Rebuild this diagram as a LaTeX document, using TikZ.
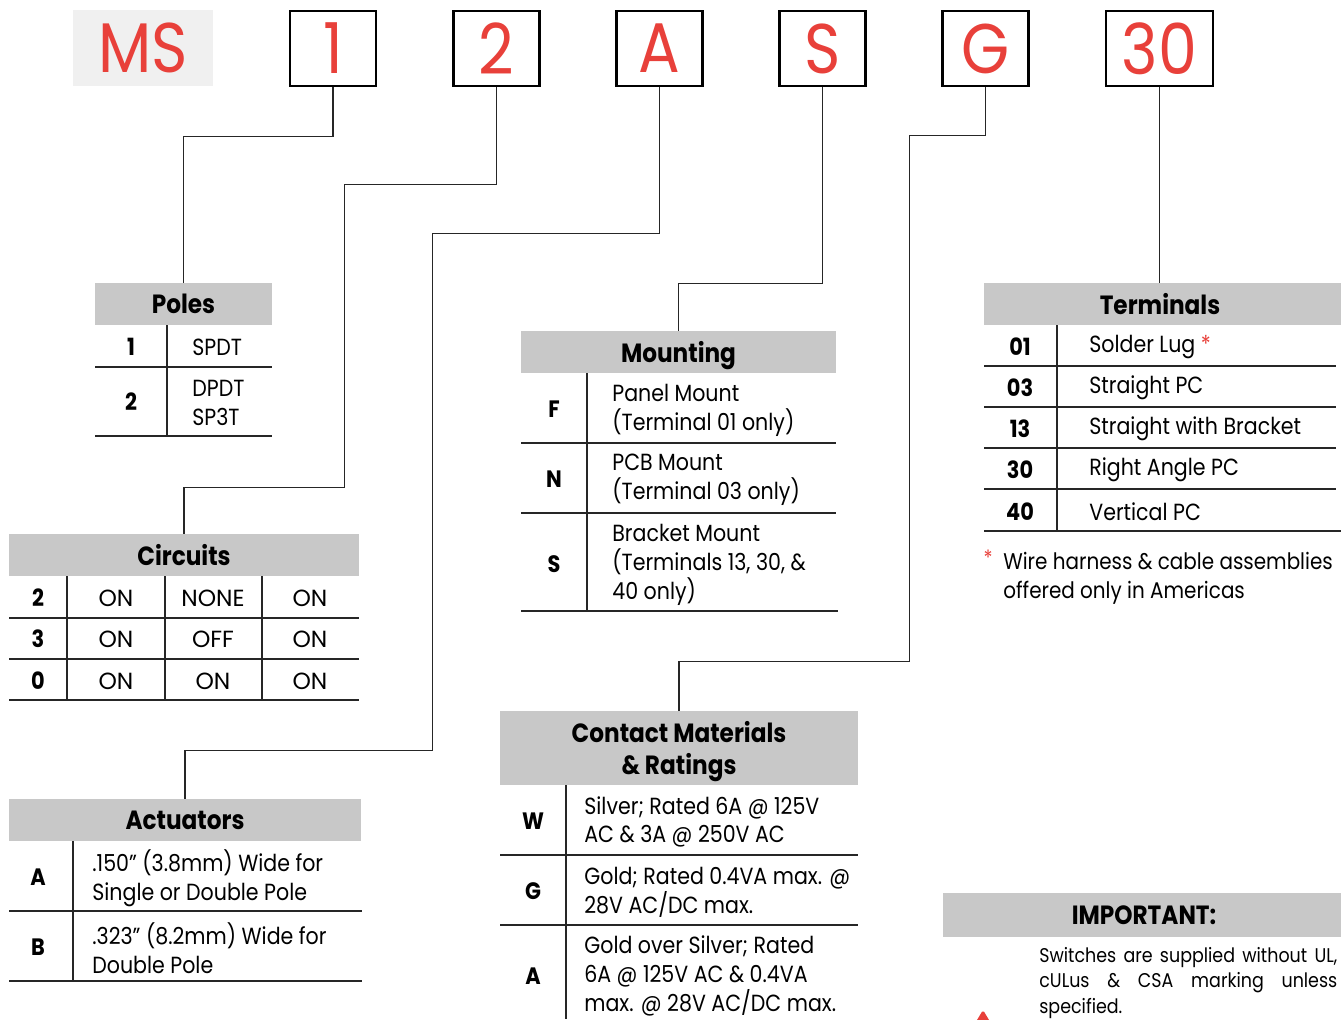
\documentclass[tikz,border=0pt]{standalone}
\usepackage{fontspec}
\setmainfont{Poppins}[FakeStretch=0.88]
\newfontfamily\capsfont{Poppins}
\usetikzlibrary{calc,positioning}
\definecolor{msred}{HTML}{E8403A}
\definecolor{msgray}{HTML}{F0F0F0}
\definecolor{headgray}{HTML}{C8C8C8}
\tikzset{
  code-box/.style={draw,line width=1.6pt,minimum width=1.72cm,minimum height=1.5cm,inner sep=0pt,text=msred,font=\fontsize{40}{40}\selectfont},
  head-bar/.style={fill=headgray,minimum height=0.84cm,inner sep=0pt,text depth=0pt,font=\fontsize{15}{18.2}\selectfont\bfseries},
  lead/.style={line width=0.8pt,black!85},
  rule/.style={line width=0.8pt,black!85},
  cell-key/.style={inner sep=0pt,font=\fontsize{13.5}{16.4}\selectfont\bfseries},
  cell-txt/.style={inner sep=0pt,anchor=west,align=left,font=\fontsize{13.3}{16.4}\selectfont},
  cell-mid/.style={inner sep=0pt,font=\fontsize{13.3}{16.4}\capsfont},
}

\begin{document}
\begin{tikzpicture}[x=0.02cm,y=-0.02cm]

  \clip (0,0) rectangle (1341,1019);

  % PART NUMBER
  \node[code-box,draw=none,fill=msgray,minimum width=2.8cm,minimum height=1.52cm] (bMS) at (143,48) {MS};
  \node[code-box] (b1)  at (333,48.5)    {1};
  \node[code-box] (b2)  at (496.5,48.5)  {2};
  \node[code-box] (bA)  at (659.5,48.5)  {A};
  \node[code-box] (bS)  at (822.5,48.5)  {S};
  \node[code-box] (bG)  at (985.5,48.5)  {G};
  \node[code-box,minimum width=2.14cm] (b30) at (1159.5,48.5) {30};

  % headers
  \node[head-bar,minimum width=3.54cm] (hPoles) at (183.5,304) {Poles};
  \node[head-bar,minimum width=7cm]    (hCirc)  at (184,555)   {Circuits};
  \node[head-bar,minimum width=7.04cm] (hAct)   at (185,820)   {Actuators};
  \node[head-bar,minimum width=6.3cm]  (hMount) at (678.5,352) {Mounting};
  \node[head-bar,minimum width=7.16cm,minimum height=1.48cm,align=center] (hCont) at (679,748) {Contact Materials\\\& Ratings};
  \node[head-bar,minimum width=7.22cm] (hTerm)  at (1164.5,304) {\hspace*{-0.18cm}Terminals};
  \node[head-bar,minimum width=8.04cm,minimum height=0.88cm] (hImp) at (1144,915) {IMPORTANT:};

  % leaders
  \draw[lead] (b1.south) -- ++(0,49) -| (hPoles.north);
  \draw[lead] (b2.south) -- ++(0,97) -| ++(-152,303) -| (hCirc.north);
  \draw[lead] (bA.south) -- ++(0,146) -| ++(-227,517) -| (hAct.north);
  \draw[lead] (bS.south) -- ++(0,196) -| (hMount.north);
  \draw[lead] (bG.south) -- ++(0,48) -| ++(-76,526) -| (hCont.north);
  \draw[lead] (b30.south) -- (b30.south |- hTerm.north);

  % POLES
  \draw[rule] (95,367) -- (272,367);
  \draw[rule] (95,436) -- (272,436);
  \draw[rule] (167,325) -- (167,436);
  \node[cell-key] (po1k) at (131,347) {1};
  \node[cell-key] (po2k) at (131,402) {2};
  \node[cell-txt] (po1t) at (192,347) {SPDT};
  \node[cell-txt] (po2t) at (192,403) {DPDT\\SP3T};

  % CIRCUITS
  \draw[rule] (9,618) -- (359,618);
  \draw[rule] (9,659) -- (359,659);
  \draw[rule] (9,700) -- (359,700);
  \draw[rule] (67,576) -- (67,700);
  \draw[rule] (165,576) -- (165,700);
  \draw[rule] (262,576) -- (262,700);
  \node[cell-key] (ci2k) at (38,598) {2};
  \node[cell-key] (ci3k) at (38,639) {3};
  \node[cell-key] (ci0k) at (38,681) {0};
  \node[cell-mid] (ci2a) at (116,598) {ON};
  \node[cell-mid] (ci2b) at (213,598) {NONE};
  \node[cell-mid] (ci2c) at (310,598) {ON};
  \node[cell-mid] (ci3a) at (116,639) {ON};
  \node[cell-mid] (ci3b) at (213,639) {OFF};
  \node[cell-mid] (ci3c) at (310,639) {ON};
  \node[cell-mid] (ci0a) at (116,681) {ON};
  \node[cell-mid] (ci0b) at (213,681) {ON};
  \node[cell-mid] (ci0c) at (310,681) {ON};

  % ACTUATORS
  \draw[rule] (9,911) -- (362,911);
  \draw[rule] (9,981) -- (362,981);
  \draw[rule] (73,841) -- (73,981);
  \node[cell-key] (acAk) at (38,877) {A};
  \node[cell-key] (acBk) at (38,947) {B};
  \node[cell-txt] (acAt) at (92,878) {.150” (3.8mm) Wide for\\Single or Double Pole};
  \node[cell-txt] (acBt) at (92,948) {.323” (8.2mm) Wide for\\Double Pole};

  % MOUNTING
  \draw[rule] (521,443) -- (836,443);
  \draw[rule] (521,513) -- (836,513);
  \draw[rule] (521,611) -- (838,611);
  \draw[rule] (587,373) -- (587,611);
  \node[cell-key] (moFk) at (554,409) {F};
  \node[cell-key] (moNk) at (554,479) {N};
  \node[cell-key] (moSk) at (554,564) {S};
  \node[cell-txt] (moFt) at (612,410) {Panel Mount\\(Terminal 01 only)};
  \node[cell-txt] (moNt) at (612,480) {PCB Mount\\(Terminal 03 only)};
  \node[cell-txt] (moSt) at (612,565) {Bracket Mount\\(Terminals 13, 30, \&\\40 only)};

  % CONTACT MATERIALS
  \draw[rule] (500,855) -- (858,855);
  \draw[rule] (500,925) -- (858,925);
  \draw[rule] (566,785) -- (566,1019);
  \node[cell-key] (coWk) at (533,821) {W};
  \node[cell-key] (coGk) at (533,891) {G};
  \node[cell-key] (coAk) at (533,976) {A};
  \node[cell-txt] (coWt) at (584,822) {Silver; Rated 6A @ 125V\\AC \& 3A @ 250V AC};
  \node[cell-txt] (coGt) at (584,892) {Gold; Rated 0.4VA max. @\\28V AC/DC max.};
  \node[cell-txt] (coAt) at (584,976) {Gold over Silver; Rated\\6A @ 125V AC \& 0.4VA\\max. @ 28V AC/DC max.};

  % TERMINALS
  \draw[rule] (984,366) -- (1336,366);
  \draw[rule] (984,407) -- (1336,407);
  \draw[rule] (984,448) -- (1336,448);
  \draw[rule] (984,489) -- (1336,489);
  \draw[rule] (984,531) -- (1341,531);
  \draw[rule] (1057,325) -- (1057,531);
  \node[cell-key] (te01k) at (1020,347) {01};
  \node[cell-key] (te03k) at (1020,388) {03};
  \node[cell-key] (te13k) at (1020,429) {13};
  \node[cell-key] (te30k) at (1020,470) {30};
  \node[cell-key] (te40k) at (1020,512) {40};
  \node[cell-txt] (te01t) at (1089,347) {Solder Lug \textcolor{msred}{*}};
  \node[cell-txt] (te03t) at (1089,388) {Straight PC};
  \node[cell-txt] (te13t) at (1089,429) {Straight with Bracket};
  \node[cell-txt] (te30t) at (1089,470) {Right Angle PC};
  \node[cell-txt] (te40t) at (1089,512) {Vertical PC};

  % footnote
  \node[inner sep=0pt,text=msred,font=\fontsize{12}{14}\selectfont] (fnStar) at (988,558) {*};
  \node[cell-txt,font=\fontsize{12.9}{16.4}\selectfont] (fnTxt) at (1003,578) {Wire harness \& cable assemblies\\offered only in Americas};

  % IMPORTANT
  \node[cell-txt,font=\fontsize{11.3}{14.5}\selectfont] (impTxt) at (1039,983)
    {\makebox[5.96cm][s]{Switches are supplied without UL,}\\\makebox[5.96cm][s]{cULus \& CSA marking unless}\\specified.};
  \fill[msred,rounded corners=1pt] (983,1010) -- (1001,1040) -- (965,1040) -- cycle;

\end{tikzpicture}
\end{document}
